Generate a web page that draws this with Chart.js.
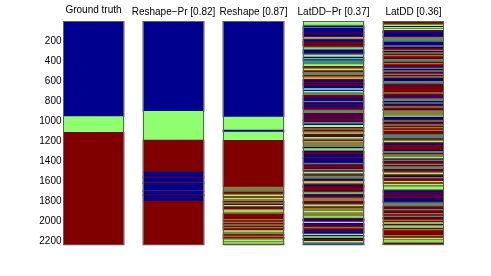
<!DOCTYPE html>
<html><head><meta charset="utf-8">
<style>html,body{margin:0;padding:0;background:#fff;overflow:hidden;}</style>
<script src="https://cdn.jsdelivr.net/npm/chart.js@4/dist/chart.umd.min.js"></script>
</head><body>
<canvas id="c" width="491" height="276" style="width:491px;height:276px;display:block"></canvas>
<script>
// ---- data ----
const panelTitles = ['Ground truth', 'Reshape\u2212Pr [0.82]', 'Reshape [0.87]', 'LatDD\u2212Pr [0.37]', 'LatDD [0.36]'];
const yTickValues = [200, 400, 600, 800, 1000, 1200, 1400, 1600, 1800, 2000, 2200];
const frameCount = 2243;
const classColors = {B:'#00008F', G:'#8FFF70', R:'#800000', O:'#86803A', T:'#468780', P:'#48004E', Y:'#C8FF66', C:'#8FE8F0'};

// segments: [last frame of segment, class]
const groundTruth = [[957,'B'],[1113,'G'],[2243,'R']];
const reshapePr = [[903,'B'],[1190,'G'],[1510,'R'],[1560,'B'],[1568,'R'],[1612,'B'],[1624,'R'],[1695,'B'],[1704,'R'],[1738,'B'],[1746,'R'],[1800,'B'],[2243,'R']];
const reshape = [[960,'B'],[1090,'G'],[1112,'B'],[1193,'G'],[1660,'R'],[1697,'O'],[1710,'T'],[1730,'R'],[1743,'O'],[1757,'G'],
  [1770,'R'],[1783,'G'],[1803,'O'],[1817,'R'],[1830,'O'],[1843,'P'],[1857,'G'],[1883,'R'],[1897,'O'],[1910,'G'],
  [1930,'O'],[1983,'R'],[1997,'O'],[2010,'R'],[2023,'O'],[2037,'R'],[2050,'O'],[2063,'R'],[2077,'O'],[2097,'R'],
  [2110,'G'],[2137,'O'],[2150,'R'],[2163,'O'],[2177,'R'],[2190,'O'],[2203,'G'],[2217,'O'],[2230,'G'],[2243,'R']];
const latddPr = [[7,'O'],[40,'G'],[50,'O'],[63,'B'],[73,'T'],[117,'B'],[137,'P'],[153,'B'],[167,'R'],[177,'G'],
  [187,'O'],[203,'B'],[217,'P'],[233,'R'],[247,'P'],[260,'R'],[270,'O'],[280,'G'],[290,'T'],[317,'B'],
  [330,'P'],[343,'T'],[360,'G'],[377,'B'],[387,'G'],[397,'B'],[437,'T'],[453,'G'],[470,'R'],[483,'O'],
  [497,'G'],[513,'R'],[527,'T'],[543,'O'],[557,'R'],[570,'O'],[580,'Y'],[597,'R'],[610,'B'],[623,'R'],
  [637,'B'],[650,'R'],[677,'B'],[690,'C'],[703,'B'],[717,'G'],[730,'T'],[743,'O'],[757,'R'],[777,'P'],
  [790,'B'],[803,'P'],[817,'T'],[830,'B'],[850,'P'],[863,'B'],[877,'P'],[890,'R'],[903,'T'],[923,'O'],
  [980,'P'],[997,'R'],[1013,'P'],[1030,'T'],[1043,'B'],[1053,'G'],[1063,'Y'],[1077,'P'],[1090,'O'],[1107,'R'],
  [1120,'O'],[1130,'G'],[1147,'R'],[1163,'P'],[1177,'G'],[1190,'O'],[1207,'R'],[1213,'G'],[1263,'O'],[1277,'B'],
  [1290,'G'],[1303,'O'],[1317,'B'],[1330,'R'],[1363,'B'],[1377,'R'],[1410,'B'],[1423,'P'],[1437,'T'],[1450,'P'],
  [1470,'R'],[1483,'P'],[1497,'O'],[1510,'P'],[1523,'G'],[1537,'T'],[1550,'R'],[1567,'O'],[1580,'T'],[1593,'B'],
  [1607,'R'],[1620,'G'],[1630,'O'],[1643,'R'],[1657,'B'],[1667,'P'],[1697,'R'],[1710,'P'],[1720,'O'],[1730,'G'],
  [1743,'P'],[1757,'B'],[1770,'R'],[1803,'O'],[1817,'R'],[1830,'P'],[1843,'O'],[1857,'G'],[1870,'R'],[1903,'O'],
  [1917,'G'],[1957,'O'],[1970,'G'],[1983,'R'],[1997,'B'],[2010,'P'],[2023,'C'],[2037,'B'],[2050,'P'],[2063,'R'],
  [2077,'O'],[2090,'R'],[2103,'B'],[2117,'P'],[2130,'B'],[2143,'G'],[2157,'P'],[2170,'G'],[2183,'B'],[2203,'R'],
  [2217,'G'],[2230,'T'],[2243,'B']];
const latdd = [[10,'O'],[30,'R'],[43,'O'],[53,'G'],[63,'B'],[73,'G'],[83,'T'],[93,'Y'],[103,'R'],[117,'P'],
  [153,'B'],[163,'R'],[177,'T'],[193,'O'],[210,'T'],[247,'B'],[260,'O'],[277,'B'],[290,'R'],[303,'O'],
  [317,'B'],[330,'O'],[343,'R'],[357,'O'],[370,'R'],[383,'P'],[397,'O'],[410,'T'],[423,'R'],[437,'O'],
  [453,'R'],[470,'P'],[483,'T'],[497,'B'],[510,'O'],[530,'P'],[543,'O'],[557,'R'],[570,'O'],[603,'B'],
  [617,'O'],[630,'T'],[643,'R'],[663,'P'],[717,'R'],[730,'O'],[743,'R'],[777,'P'],[790,'T'],[803,'O'],
  [817,'B'],[830,'T'],[843,'B'],[857,'R'],[870,'O'],[883,'R'],[897,'P'],[950,'O'],[960,'G'],[983,'B'],
  [997,'P'],[1010,'O'],[1023,'B'],[1037,'R'],[1050,'O'],[1063,'R'],[1077,'O'],[1090,'R'],[1103,'O'],[1137,'R'],
  [1177,'T'],[1190,'R'],[1203,'O'],[1217,'G'],[1230,'P'],[1243,'B'],[1290,'R'],[1303,'B'],[1323,'T'],[1337,'R'],
  [1350,'O'],[1363,'T'],[1377,'G'],[1390,'R'],[1403,'T'],[1417,'P'],[1430,'R'],[1443,'O'],[1457,'P'],[1470,'O'],
  [1483,'T'],[1497,'P'],[1510,'R'],[1523,'O'],[1537,'G'],[1550,'R'],[1563,'B'],[1577,'O'],[1603,'R'],[1617,'G'],
  [1630,'R'],[1643,'G'],[1660,'O'],[1683,'G'],[1697,'O'],[1710,'B'],[1757,'P'],[1770,'R'],[1803,'B'],[1817,'P'],
  [1830,'T'],[1843,'O'],[1857,'T'],[1870,'R'],[1883,'P'],[1897,'O'],[1910,'R'],[1923,'P'],[1937,'O'],[1950,'R'],
  [1963,'O'],[1977,'P'],[1990,'R'],[2003,'O'],[2017,'R'],[2030,'G'],[2043,'P'],[2057,'O'],[2070,'G'],[2083,'R'],
  [2097,'O'],[2143,'R'],[2157,'O'],[2170,'R'],[2183,'G'],[2197,'O'],[2210,'G'],[2223,'O'],[2237,'R'],[2243,'T']];

const panels = [groundTruth, reshapePr, reshape, latddPr, latdd];

// ---- build datasets ----
const FONT = '"Liberation Sans", Arial, Helvetica, sans-serif';
const common = {grouped:false, maxBarThickness:61, barPercentage:1, categoryPercentage:1};
const datasets = [];
datasets.push(Object.assign({
  label:'frame',
  data: panels.map((_, i) => ({x:i+1, y:[0.5, frameCount + 0.5]})),
  backgroundColor:'rgba(0,0,0,0)', borderColor:'#606060', borderWidth:1, borderSkipped:false,
  inflateAmount:0, order:0
}, common));
panels.forEach((segs, i) => {
  let start = 0.5;
  const data = [], colors = [];
  segs.forEach(([end, c]) => {
    data.push({x:i+1, y:[start, end + 0.5]});
    colors.push(classColors[c]);
    start = end + 0.5;
  });
  datasets.push(Object.assign({
    label: panelTitles[i], data, backgroundColor: colors, borderWidth:0, inflateAmount:0.35, order:1
  }, common));
});

new Chart(document.getElementById('c'), {
  type:'bar',
  data:{datasets},
  options:{
    responsive:false, animation:false, devicePixelRatio:1,
    layout:{padding:{left:0, right:47, top:0, bottom:30.7}},
    plugins:{legend:{display:false}, tooltip:{enabled:false}},
    scales:{
      x:{
        type:'linear', position:'top', offset:false, min:0.61875, max:5.38125,
        grid:{display:false, drawTicks:false}, border:{display:false},
        afterBuildTicks:s => { s.ticks = panelTitles.map((t, i) => ({value:i+1})); },
        afterFit:s => { s.height = 21; },
        ticks:{
          autoSkip:false, maxRotation:0, minRotation:0, padding:2.7, color:'#000',
          font:ctx => ({family:FONT, size:10, lineHeight: ctx.index === 0 ? 1.6 : 1.2}),
          callback:(v, i) => panelTitles[i]
        }
      },
      y:{
        type:'linear', reverse:true, min:0.5, max:frameCount + 0.5,
        grid:{display:false, drawTicks:false}, border:{display:false},
        afterBuildTicks:s => { s.ticks = yTickValues.map(v => ({value:v})); },
        afterFit:s => { s.width = 63; },
        ticks:{padding:1.5, color:'#000', font:{family:FONT, size:10}, callback:v => String(v)}
      }
    }
  }
});
</script>
</body></html>
